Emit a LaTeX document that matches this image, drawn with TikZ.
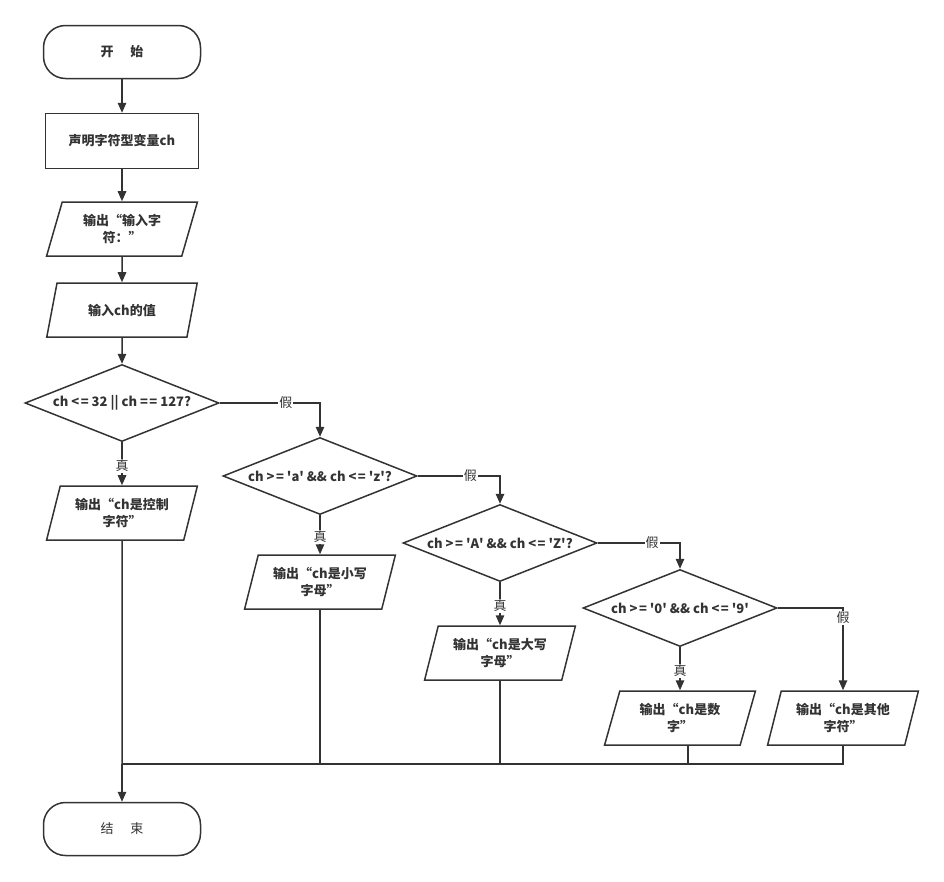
\documentclass[tikz,border=0pt]{standalone}
\usepackage{fontspec}
\setmainfont{Noto Sans CJK SC}
\usetikzlibrary{shapes.geometric,arrows.meta}
\definecolor{linegray}{HTML}{333333}
\newcommand{\flowfont}{\fontsize{13pt}{17pt}\selectfont}
\newcommand{\sq}{\textquotesingle}
\newcommand{\lte}{<\kern1.5pt=}
\newcommand{\gte}{>\kern1.5pt=}
\tikzset{
  terminal/.style={draw, rounded corners=22pt, minimum width=157pt, minimum height=53pt, font=\flowfont\bfseries},
  process/.style={draw, minimum width=153pt, minimum height=55pt, font=\flowfont\bfseries},
  io/.style={draw, trapezium, trapezium left angle=73, trapezium right angle=107,
    trapezium stretches=true, minimum width=151pt, minimum height=54pt,
    align=center, font=\flowfont\bfseries},
  decision/.style={draw, diamond, shape aspect=2.5, inner sep=0pt,
    minimum width=194pt, minimum height=77pt, font=\flowfont\bfseries},
  branch/.style={fill=white, inner sep=1pt, font=\flowfont}
}
\begin{document}
\begin{tikzpicture}[x=1pt, y=-1pt, line width=1.5pt, color=linegray,
    >={Triangle[length=10pt,width=8.5pt]}]
  \useasboundingbox (0,0) rectangle (944,881);
  \node[terminal] (start) at (122,52) {开\hspace{1.3em}始};
  \node[process] (decl) at (122,141) {声明字符型变量ch};
  \node[io] (prompt) at (122,229) {输出“输入字\\符：”};
  \node[io] (input) at (122,310) {输入ch的值};
  \node[decision] (d1) at (122,403) {ch \lte{} 32 || ch =\kern1.5pt= 127?};
  \node[io] (ctrl) at (122,513) {输出“ch是控制\\字符”};
  \node[decision] (d2) at (320,476) {ch \gte{} \sq a\sq{} \&\& ch \lte{} \sq z\sq?};
  \node[io] (lower) at (320,582) {输出“ch是小写\\字母”};
  \node[decision] (d3) at (500,543) {ch \gte{} \sq A\sq{} \&\& ch \lte{} \sq Z\sq?};
  \node[io] (upper) at (500,653) {输出“ch是大写\\字母”};
  \node[decision] (d4) at (680,608) {ch \gte{} \sq 0\sq{} \&\& ch \lte{} \sq 9\sq};
  \node[io] (digit) at (680,718) {输出“ch是数\\字”};
  \node[io] (other) at (843,718) {输出“ch是其他\\字符”};
  \node[terminal, font=\flowfont] (stop) at (122,829) {结\hspace{1.3em}束};
  \coordinate (merge) at (122,764);
  % main column
  \draw[->] (start) -- (decl);
  \draw[->] (decl) -- (prompt);
  \draw[->] (prompt) -- (input);
  \draw[->] (input) -- (d1);
  % decisions
  \draw[->] (d1) -- node[branch, pos=.55] {真} (ctrl);
  \draw[->] (d1.east) -| node[branch, pos=.33] {假} (d2.north);
  \draw[->] (d2) -- node[branch, pos=.55] {真} (lower);
  \draw[->] (d2.east) -| node[branch, pos=.32] {假} (d3.north);
  \draw[->] (d3) -- node[branch, pos=.55] {真} (upper);
  \draw[->] (d3.east) -| node[branch, pos=.33] {假} (d4.north);
  \draw[->] (d4) -- node[branch, pos=.55] {真} (digit);
  \draw[->] (d4.east) -| node[branch, pos=.56] {假} (other.north);
  % merge into end
  \draw (ctrl.south) -- (merge);
  \draw (lower.south) |- (merge);
  \draw (upper.south) |- (merge);
  \draw ([xshift=8pt]digit.south) |- (merge);
  \draw (other.south) |- (merge);
  \draw[->] (merge) -- (stop);
\end{tikzpicture}
\end{document}
